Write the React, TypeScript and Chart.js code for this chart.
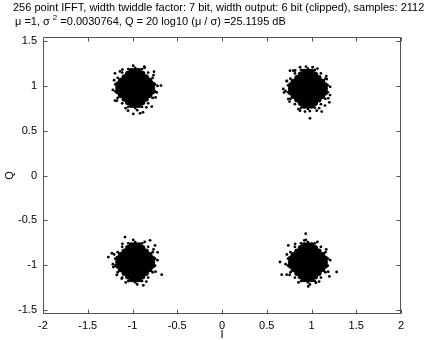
import { useEffect, useRef } from "react";
import { Chart, registerables } from "chart.js";

Chart.register(...registerables);

const titleLine1 =
  "256 point IFFT, width twiddle factor: 7 bit, width output: 6 bit (clipped), samples: 2112";
const titleLine2a = "\u03bc =1, \u03c3";
const titleLine2sup = "2";
const titleLine2b = " =0.0030764, Q = 20 log10 (\u03bc / \u03c3) =25.1195 dB";
const xAxisTitle = "I";
const yAxisTitle = "Q";
const xTicks = [-2, -1.5, -1, -0.5, 0, 0.5, 1, 1.5, 2];
const yTicks = [-1.5, -1, -0.5, 0, 0.5, 1, 1.5];
const xRange = [-2, 2];
const yRange = [-1.55, 1.55];

type Row = [number, number[]];
type Pt = [number, number];

// I values across the dense cores (left clusters / right clusters)
const leftW3 = [-1.01, -0.97, -0.93];
const leftW5 = [-1.05, -1.01, -0.97, -0.93, -0.89];
const leftW7 = [-1.09, -1.05, -1.01, -0.97, -0.93, -0.89, -0.85];
const leftW9 = [-1.13, -1.09, -1.05, -1.01, -0.97, -0.93, -0.89, -0.85, -0.81];
const leftW11 = [-1.16, -1.13, -1.09, -1.05, -1.01, -0.97, -0.93, -0.89, -0.85, -0.81, -0.78];
const rightW3 = [0.92, 0.96, 1.0];
const rightW5 = [0.88, 0.92, 0.96, 1.0, 1.04];
const rightW7 = [0.84, 0.88, 0.92, 0.96, 1.0, 1.04, 1.08];
const rightW9 = [0.8, 0.84, 0.88, 0.92, 0.96, 1.0, 1.04, 1.08, 1.12];
const rightW11 = [0.77, 0.8, 0.84, 0.88, 0.92, 0.96, 1.0, 1.04, 1.08, 1.12, 1.15];

// dense cores of the four clusters, as rows [Q, list of I]
const coreTL: Row[] = [
  [1.17, leftW3], [1.14, leftW5], [1.1, leftW7], [1.06, leftW9], [1.02, leftW11], [0.98, leftW11],
  [0.94, leftW11], [0.9, leftW9], [0.86, leftW7], [0.82, leftW5], [0.79, leftW3],
];
const coreTR: Row[] = [
  [1.16, rightW3], [1.13, rightW5], [1.09, rightW7], [1.05, rightW9], [1.01, rightW11], [0.97, rightW11],
  [0.93, rightW11], [0.89, rightW9], [0.85, rightW7], [0.81, rightW5], [0.78, rightW3],
];
const coreBL: Row[] = [
  [-0.78, leftW3], [-0.81, leftW5], [-0.85, leftW7], [-0.89, leftW9], [-0.93, leftW11], [-0.97, leftW11],
  [-1.01, leftW11], [-1.05, leftW9], [-1.09, leftW7], [-1.13, leftW5], [-1.16, leftW3],
];
const coreBR: Row[] = [
  [-0.78, rightW3], [-0.81, rightW5], [-0.85, rightW7], [-0.89, rightW9], [-0.93, rightW11], [-0.97, rightW11],
  [-1.01, rightW11], [-1.05, rightW9], [-1.09, rightW7], [-1.13, rightW5], [-1.16, rightW3],
];

// scattered samples around the edges of each cluster
const edgeTL: Pt[] = [
  [-0.748, 1.019], [-0.775, 1.093], [-0.825, 1.152], [-0.893, 1.191], [-0.97, 1.205], [-1.047, 1.191],
  [-1.115, 1.152], [-1.165, 1.093], [-1.192, 1.019], [-1.192, 0.941], [-1.165, 0.868], [-1.115, 0.808],
  [-1.047, 0.769], [-0.97, 0.755], [-0.893, 0.769], [-0.825, 0.808], [-0.775, 0.868], [-0.748, 0.941],
  [-0.721, 1.002], [-0.765, 1.123], [-0.864, 1.207], [-0.992, 1.229], [-1.113, 1.185], [-1.205, 1.066],
  [-1.219, 0.958], [-1.175, 0.837], [-1.076, 0.753], [-0.948, 0.731], [-0.845, 0.763], [-0.743, 0.874],
  [-0.868, 1.218], [-0.76, 1.162], [-0.682, 1.006], [-1.196, 1.143], [-1.196, 0.838], [-0.991, 0.689],
  [-0.883, 0.707], [-0.785, 0.771], [-1.05, 0.726], [-0.916, 0.696], [-1.14, 1.165], [-0.73, 0.93],
];
const edgeTR: Pt[] = [
  [1.182, 1.009], [1.155, 1.083], [1.105, 1.142], [1.037, 1.181], [0.96, 1.195], [0.883, 1.181],
  [0.815, 1.142], [0.765, 1.083], [0.738, 1.009], [0.738, 0.931], [0.765, 0.858], [0.815, 0.798],
  [0.883, 0.759], [0.96, 0.745], [1.037, 0.759], [1.105, 0.798], [1.155, 0.858], [1.182, 0.931],
  [1.209, 0.992], [1.165, 1.113], [1.066, 1.197], [0.938, 1.219], [0.817, 1.175], [0.725, 1.056],
  [0.711, 0.948], [0.755, 0.827], [0.854, 0.743], [0.982, 0.721], [1.085, 0.753], [1.187, 0.864],
  [0.983, 0.64], [0.685, 0.969], [1.199, 0.819], [1.207, 0.9], [0.927, 0.715], [1.114, 0.715],
  [1.013, 1.212], [0.797, 1.173], [0.723, 1.06], [0.76, 1.173], [0.872, 1.212], [1.17, 1.08],
  [1.151, 0.782], [1.058, 0.726], [0.872, 0.725], [0.741, 0.857], [0.693, 0.93],
];
const edgeBL: Pt[] = [
  [-0.748, -0.931], [-0.775, -0.858], [-0.825, -0.798], [-0.893, -0.759], [-0.97, -0.745], [-1.047, -0.759],
  [-1.115, -0.798], [-1.165, -0.858], [-1.192, -0.931], [-1.192, -1.009], [-1.165, -1.083], [-1.115, -1.142],
  [-1.047, -1.181], [-0.97, -1.195], [-0.893, -1.181], [-0.825, -1.142], [-0.775, -1.083], [-0.748, -1.009],
  [-0.721, -0.948], [-0.765, -0.827], [-0.864, -0.743], [-0.992, -0.721], [-1.113, -0.765], [-1.205, -0.884],
  [-1.219, -0.992], [-1.175, -1.113], [-1.076, -1.197], [-0.948, -1.219], [-0.845, -1.187], [-0.743, -1.076],
  [-1.084, -0.689], [-1.27, -0.913], [-0.674, -1.11], [-0.804, -0.726], [-0.879, -1.229], [-1.12, -1.154],
  [-0.749, -0.782], [-1.214, -1.025], [-1.23, -0.87], [-0.72, -0.86],
];
const edgeBR: Pt[] = [
  [1.182, -0.931], [1.155, -0.858], [1.105, -0.798], [1.037, -0.759], [0.96, -0.745], [0.883, -0.759],
  [0.815, -0.798], [0.765, -0.858], [0.738, -0.931], [0.738, -1.009], [0.765, -1.083], [0.815, -1.142],
  [0.883, -1.181], [0.96, -1.195], [1.037, -1.181], [1.105, -1.142], [1.155, -1.083], [1.182, -1.009],
  [1.209, -0.948], [1.165, -0.827], [1.066, -0.743], [0.938, -0.721], [0.817, -0.765], [0.725, -0.884],
  [0.711, -0.992], [0.755, -1.113], [0.854, -1.197], [0.982, -1.219], [1.085, -1.187], [1.187, -1.076],
  [0.935, -0.652], [0.92, -0.726], [1.281, -1.08], [0.648, -0.968], [0.667, -1.11], [0.723, -1.11],
  [0.964, -1.241], [0.741, -0.782], [1.2, -1.13], [1.05, -1.2],
];

const FONT = '"Liberation Sans", Arial, Helvetica, sans-serif';

const decorPlugin = {
  id: "decor",
  afterDraw(chart: any) {
    const { ctx, chartArea: a, scales } = chart;
    ctx.save();
    ctx.strokeStyle = "#555";
    ctx.lineWidth = 1;
    const l = Math.round(a.left) + 0.5;
    const r = Math.round(a.right) - 0.5;
    const t = Math.round(a.top) + 0.5;
    const b = Math.round(a.bottom) - 0.5;
    ctx.strokeRect(l, t, r - l, b - t);
    const L = 4;
    ctx.beginPath();
    for (const v of xTicks) {
      const px = Math.round(scales.x.getPixelForValue(v)) + 0.5;
      ctx.moveTo(px, b);
      ctx.lineTo(px, b - L);
      ctx.moveTo(px, t);
      ctx.lineTo(px, t + L);
    }
    for (const v of yTicks) {
      const py = Math.round(scales.y.getPixelForValue(v)) + 0.5;
      ctx.moveTo(l, py);
      ctx.lineTo(l + L, py);
      ctx.moveTo(r, py);
      ctx.lineTo(r - L, py);
    }
    ctx.stroke();

    ctx.fillStyle = "#000";
    ctx.textBaseline = "middle";
    ctx.textAlign = "left";
    ctx.font = `11px ${FONT}`;
    ctx.fillText(titleLine1, 13, 8);
    let x = 15;
    ctx.fillText(titleLine2a, x, 22);
    x += ctx.measureText(titleLine2a).width + 3;
    ctx.font = `8px ${FONT}`;
    ctx.fillText(titleLine2sup, x, 18);
    x += ctx.measureText(titleLine2sup).width;
    ctx.font = `11px ${FONT}`;
    ctx.fillText(titleLine2b, x, 22);

    ctx.textAlign = "center";
    ctx.fillText(xAxisTitle, (a.left + a.right) / 2, 335);
    ctx.save();
    ctx.translate(10, (a.top + a.bottom) / 2);
    ctx.rotate(-Math.PI / 2);
    ctx.fillText(yAxisTitle, 0, 0);
    ctx.restore();
    ctx.restore();
  },
};

export default function App() {
  const ref = useRef<HTMLCanvasElement | null>(null);
  useEffect(() => {
    if (!ref.current) return;
    const rowsToPts = (rows: Row[]) => rows.flatMap(([y, xs]) => xs.map((x) => ({ x, y })));
    const corePts = [coreTL, coreTR, coreBL, coreBR].flatMap(rowsToPts);
    const edgePts = [edgeTL, edgeTR, edgeBL, edgeBR].flatMap((list) => list.map(([x, y]) => ({ x, y })));
    const chart = new Chart(ref.current, {
      type: "scatter",
      data: {
        datasets: [
          {
            label: "core",
            data: corePts,
            pointRadius: 3,
            pointBorderWidth: 0,
            pointBackgroundColor: "#000",
            pointBorderColor: "#000",
          },
          {
            label: "edge",
            data: edgePts,
            pointRadius: 1.4,
            pointBorderWidth: 0,
            pointBackgroundColor: "#000",
            pointBorderColor: "#000",
          },
        ],
      },
      options: {
        animation: false,
        responsive: false,
        events: [],
        layout: { padding: { top: 37, right: 26, left: 0, bottom: 0 } },
        plugins: { legend: { display: false }, tooltip: { enabled: false }, title: { display: false } },
        scales: {
          x: {
            type: "linear",
            min: xRange[0],
            max: xRange[1],
            grid: { display: false, drawTicks: false },
            border: { display: false },
            afterBuildTicks: (s: any) => {
              s.ticks = xTicks.map((v) => ({ value: v }));
            },
            afterFit: (s: any) => {
              s.height = 26;
            },
            ticks: {
              padding: 5,
              color: "#000",
              font: { family: FONT, size: 11 },
              maxRotation: 0,
              autoSkip: false,
              callback: (v: any) => String(+v),
            },
          },
          y: {
            type: "linear",
            min: yRange[0],
            max: yRange[1],
            grid: { display: false, drawTicks: false },
            border: { display: false },
            afterBuildTicks: (s: any) => {
              s.ticks = yTicks.map((v) => ({ value: v }));
            },
            afterFit: (s: any) => {
              s.width = 43;
            },
            ticks: {
              padding: 6,
              color: "#000",
              font: { family: FONT, size: 11 },
              autoSkip: false,
              callback: (v: any) => String(+v),
            },
          },
        },
      },
      plugins: [decorPlugin],
    });
    return () => chart.destroy();
  }, []);
  return (
    <canvas
      ref={ref}
      width={427}
      height={340}
      style={{ position: "absolute", left: 0, top: 0, width: 427, height: 340 }}
    />
  );
}
